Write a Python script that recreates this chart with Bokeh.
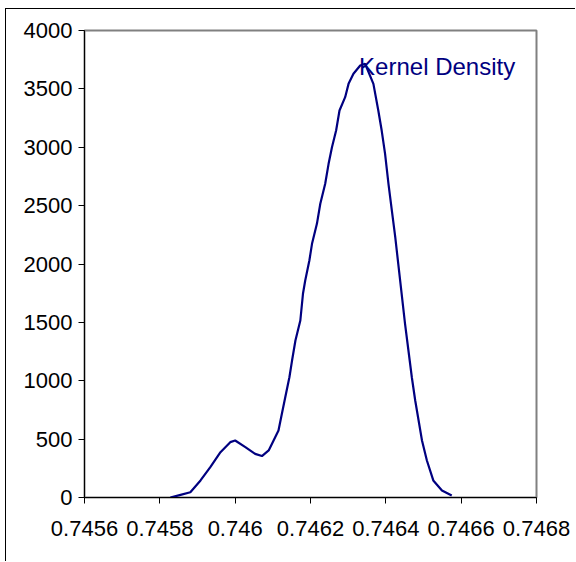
from bokeh.plotting import figure
from bokeh.models import FixedTicker, CustomJSTickFormatter, ColumnDataSource, Range1d
from bokeh.core.properties import value
from bokeh.embed import file_html
from bokeh.resources import INLINE

# Kernel density estimate sampled along the x axis
density_x = [
    0.745828, 0.745855, 0.745881, 0.745908, 0.745934, 0.745961, 0.745987, 0.746000,
    0.746027, 0.746053, 0.746071, 0.746089, 0.746102, 0.746115, 0.746124, 0.746133,
    0.746144, 0.746151, 0.746160, 0.746173, 0.746180, 0.746186, 0.746197, 0.746204,
    0.746217, 0.746226, 0.746239, 0.746248, 0.746257, 0.746268, 0.746277, 0.746292,
    0.746301, 0.746314, 0.746332, 0.746345, 0.746367, 0.746380, 0.746389, 0.746398,
    0.746407, 0.746416, 0.746425, 0.746433, 0.746442, 0.746451, 0.746460, 0.746469,
    0.746478, 0.746487, 0.746496, 0.746509, 0.746526, 0.746549, 0.746575,
]
density_y = [
    0, 23, 45, 146, 260, 388, 474, 488,
    431, 374, 355, 403, 488, 574, 717, 859,
    1030, 1173, 1345, 1516, 1745, 1859, 2030, 2173,
    2344, 2516, 2687, 2858, 3000, 3143, 3315, 3429,
    3543, 3629, 3700, 3715, 3543, 3315, 3143, 2944,
    2687, 2458, 2230, 2002, 1745, 1488, 1259, 1030,
    831, 660, 488, 317, 146, 60, 17,
]
series_name = "Kernel Density"

x_ticks = [0.7456, 0.7458, 0.7460, 0.7462, 0.7464, 0.7466, 0.7468]
y_ticks = [0, 500, 1000, 1500, 2000, 2500, 3000, 3500, 4000]

NAVY = "#000080"
FONT = "Liberation Sans"

p = figure(
    width=570, height=553,
    output_backend="svg", toolbar_location=None,
    x_range=Range1d(x_ticks[0], x_ticks[-1]),
    y_range=Range1d(y_ticks[0], y_ticks[-1]),
    min_border_left=78, min_border_right=40,
    min_border_top=21, min_border_bottom=65,
)
p.styles = {
    "margin-left": "5px", "margin-top": "8px",
    "border-left": "1px solid black", "border-top": "1px solid black",
}

p.xgrid.visible = False
p.ygrid.visible = False
p.outline_line_color = "#808080"
p.outline_line_width = 2

for ax in (p.xaxis[0], p.yaxis[0]):
    ax.axis_line_color = "black"
    ax.major_tick_line_color = "black"
    ax.major_tick_in = 0
    ax.major_tick_out = 6
    ax.minor_tick_line_color = None
    ax.major_label_text_font = FONT
    ax.major_label_text_font_size = "22px"
    ax.major_label_text_color = "black"

p.xaxis.ticker = FixedTicker(ticks=x_ticks)
p.yaxis.ticker = FixedTicker(ticks=y_ticks)
p.xaxis.formatter = CustomJSTickFormatter(
    code="return tick.toFixed(4).replace(/0+$/, '').replace(/\\.$/, '');"
)
p.xaxis.major_label_standoff = 17
p.yaxis.major_label_standoff = 6

src = ColumnDataSource(dict(x=density_x, y=density_y))
p.line("x", "y", source=src, line_color=NAVY, line_width=2.2)

# series name label anchored at the curve's maximum
peak = max(range(len(density_y)), key=lambda i: density_y[i])
lab = ColumnDataSource(dict(x=[density_x[peak]], y=[density_y[peak]], t=[series_name]))
p.text("x", "y", text="t", source=lab, text_color=NAVY,
       text_font_size="24px", text_align="left", text_baseline="middle",
       x_offset=-6, y_offset=3, text_font=value(FONT))

open("out.html", "w").write(file_html(p, INLINE))
